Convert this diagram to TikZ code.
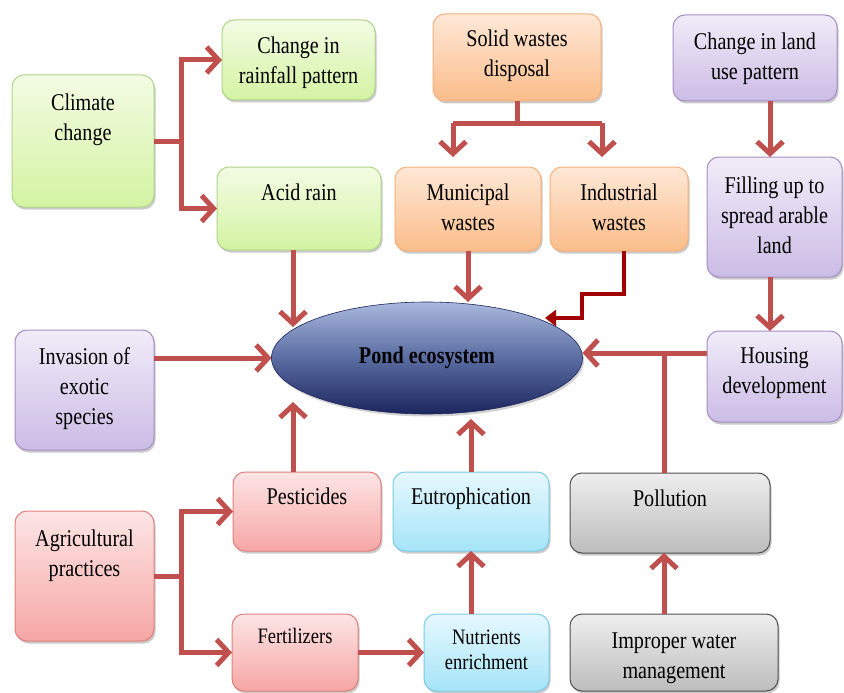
\documentclass[tikz,border=0pt]{standalone}
\usepackage{fontspec}
\setmainfont{Liberation Serif}[FakeStretch=0.84]
\usetikzlibrary{arrows.meta,shapes.geometric,shadows,calc}
\definecolor{arrc}{HTML}{C0504D}
\definecolor{darkr}{HTML}{A00000}
\definecolor{gtop}{HTML}{F3FCE4}\definecolor{gbot}{HTML}{D4F3A2}\definecolor{gbd}{HTML}{AFD58A}
\definecolor{otop}{HTML}{FEE8D7}\definecolor{obot}{HTML}{FBBD8A}\definecolor{obd}{HTML}{F6B07A}
\definecolor{ptop}{HTML}{F1ECF8}\definecolor{pbot}{HTML}{CBBCE5}\definecolor{pbd}{HTML}{A38FC5}
\definecolor{rtop}{HTML}{FDE5E5}\definecolor{rbot}{HTML}{F6A7A5}\definecolor{rbd}{HTML}{DE7F7D}
\definecolor{ctop}{HTML}{E7F8FE}\definecolor{cbot}{HTML}{A5E4F8}\definecolor{cbd}{HTML}{7ACDE8}
\definecolor{ktop}{HTML}{EEEEEE}\definecolor{kbot}{HTML}{BDBDBD}\definecolor{kbd}{HTML}{505050}
\definecolor{etop}{HTML}{A9B8DC}\definecolor{emid}{HTML}{5A6CA2}\definecolor{ebot}{HTML}{1C265E}
\newcommand\bigf{\fontsize{24}{30}\selectfont}
\newcommand\smallf{\fontsize{22}{25}\selectfont}
\begin{document}
\begin{tikzpicture}[x=1pt,y=-1pt,
  box/.style={rectangle, rounded corners=12pt, line width=1pt, inner sep=0pt, outer sep=0pt,
    drop shadow={shadow xshift=1.5pt, shadow yshift=-2.5pt, opacity=0.35, fill=black!60}},
  gbox/.style={box, draw=gbd, top color=gtop, bottom color=gbot},
  obox/.style={box, draw=obd, top color=otop, bottom color=obot},
  pbox/.style={box, draw=pbd, top color=ptop, bottom color=pbot},
  rbox/.style={box, draw=rbd, top color=rtop, bottom color=rbot},
  cbox/.style={box, draw=cbd, top color=ctop, bottom color=cbot},
  kbox/.style={box, draw=kbd, top color=ktop, bottom color=kbot},
  txt/.style={anchor=north, align=center, inner sep=0pt, font=\bigf},
  stxt/.style={txt, font=\smallf},
  arr/.style={draw=arrc, line width=5pt, -{Straight Barb[length=12pt,width=26pt]}},
  ln/.style={draw=arrc, line width=5pt},
  darr/.style={draw=darkr, line width=4pt, -{Triangle[length=11pt,width=16pt]}}]
\useasboundingbox (0,0) rectangle (844,693);

% boxes
\node[gbox, minimum width=142pt, minimum height=132pt] (cc) at (83,141) {};
\node[gbox, minimum width=153pt, minimum height=80pt] (cr) at (298.5,60) {};
\node[gbox, minimum width=164pt, minimum height=83pt] (ar) at (299,208.5) {};
\node[obox, minimum width=168pt, minimum height=87pt] (sw) at (517,57.5) {};
\node[obox, minimum width=146pt, minimum height=84pt] (mw) at (468,209) {};
\node[obox, minimum width=138pt, minimum height=84pt] (iw) at (619,209) {};
\node[pbox, minimum width=164pt, minimum height=86pt] (lu) at (755,58) {};
\node[pbox, minimum width=135pt, minimum height=120pt] (fl) at (774.5,217) {};
\node[pbox, minimum width=135pt, minimum height=91pt] (hd) at (774.5,376.5) {};
\node[pbox, minimum width=139pt, minimum height=120pt] (inv) at (84.5,390) {};
\node[rbox, minimum width=148pt, minimum height=79pt] (pe) at (307,511.5) {};
\node[cbox, minimum width=156pt, minimum height=79pt] (eu) at (471,511.5) {};
\node[kbox, minimum width=200pt, minimum height=80pt] (po) at (670,513) {};
\node[rbox, minimum width=139pt, minimum height=130pt] (ag) at (84.5,576) {};
\node[rbox, minimum width=126pt, minimum height=77pt] (fe) at (295,652.5) {};
\node[cbox, minimum width=125pt, minimum height=77pt] (ne) at (486.5,652.5) {};
\node[kbox, minimum width=208pt, minimum height=77pt] (im) at (674,652.5) {};

% texts
\node[txt] (cc-t) at ([yshift=-18.5pt]cc.north) {Climate\\change};
\node[txt] (cr-t) at ([yshift=-17pt]cr.north) {Change in\\rainfall pattern};
\node[txt] (ar-t) at ([yshift=-17pt]ar.north) {Acid rain};
\node[txt] (sw-t) at ([yshift=-16pt]sw.north) {Solid wastes\\disposal};
\node[txt] (mw-t) at ([yshift=-17pt]mw.north) {Municipal\\wastes};
\node[txt] (iw-t) at ([yshift=-17pt]iw.north) {Industrial\\wastes};
\node[txt] (lu-t) at ([yshift=-17.5pt]lu.north) {Change in land\\use pattern};
\node[txt] (fl-t) at ([yshift=-19.5pt]fl.north) {Filling up to\\spread arable\\land};
\node[txt] (hd-t) at ([yshift=-16pt]hd.north) {Housing\\development};
\node[txt] (inv-t) at ([yshift=-17.5pt]inv.north) {Invasion of\\exotic\\species};
\node[txt] (pe-t) at ([yshift=-16pt]pe.north) {Pesticides};
\node[txt] (eu-t) at ([yshift=-16pt]eu.north) {Eutrophication};
\node[txt] (po-t) at ([yshift=-17pt]po.north) {Pollution};
\node[txt] (ag-t) at ([yshift=-18.5pt]ag.north) {Agricultural\\practices};
\node[stxt] (fe-t) at ([yshift=-14.5pt]fe.north) {Fertilizers};
\node[stxt] (ne-t) at ([yshift=-15.5pt]ne.north) {Nutrients\\enrichment};
\node[txt] (im-t) at ([yshift=-18.5pt]im.north) {Improper water\\management};

% pond
\node[ellipse, minimum width=311pt, minimum height=112pt, inner sep=0pt, outer sep=0pt,
  draw=ebot, line width=0.6pt, top color=etop, bottom color=ebot, middle color=emid,
  drop shadow={shadow xshift=1.5pt, shadow yshift=-2.5pt, opacity=0.3, fill=black!60},
  font=\fontsize{24}{28}\selectfont\bfseries] (pond) at (427,358) {Pond ecosystem};

% helper coordinates
\coordinate (xa) at (293,0);
\coordinate (xsl) at (453,0);
\coordinate (xsr) at (602,0);
\coordinate (xi) at (624,0);
\coordinate (xl) at (770,0);
\coordinate (xp) at (664,0);
\coordinate (ys) at (0,123);
\coordinate (yh) at (0,353);
\coordinate (yt) at (0,327);
\coordinate (yb) at (0,402);
\coordinate (i1) at (624,294);
\coordinate (i2) at (582,294);
\coordinate (i3) at (582,318);
\coordinate (i4) at (545,318);
\coordinate (a1) at (ar.south -| xa);
\coordinate (p1) at (pe.north -| xa);

% connectors
\draw[arr] (cc.east) -- ++(27,0) |- (cr.west);
\draw[arr] (cc.east) -- ++(27,0) |- (ar.west);
\draw[arr] (a1) -- (a1 |- yt);
\draw[ln] (sw.south) -- (sw.south |- ys);
\draw[arr] (xsl |- ys) -- ([yshift=10pt]mw.north -| xsl);
\draw[arr] (xsr |- ys) -- ([yshift=10pt]iw.north -| xsr);
\draw[ln] (xsl |- ys) -- (xsr |- ys);
\draw[arr] (mw.south) -- (mw.south |- pond.north);
\draw[darr] (iw.south -| xi) -- (i1) -- (i2) -- (i3) -- (i4);
\draw[arr] (lu.south -| xl) -- (fl.north -| xl);
\draw[arr] (fl.south -| xl) -- (hd.north -| xl);
\draw[arr] (hd.west |- yh) -- (pond.east |- yh);
\draw[ln] (po.north -| xp) -- (xp |- yh);
\draw[arr] (inv.east |- pond.west) -- (pond.west);
\draw[arr] (p1) -- (p1 |- yb);
\draw[arr] (eu.north) -- ([yshift=-5pt]eu.north |- pond.south);
\draw[arr] (ag.east) -- ++(27,0) |- (pe.west);
\draw[arr] (ag.east) -- ++(27,0) |- (fe.west);
\draw[arr] (fe.east) -- (ne.west);
\draw[arr] (ne.north -| eu.south) -- (eu.south);
\draw[arr] (im.north -| xp) -- (po.south -| xp);
\end{tikzpicture}
\end{document}
